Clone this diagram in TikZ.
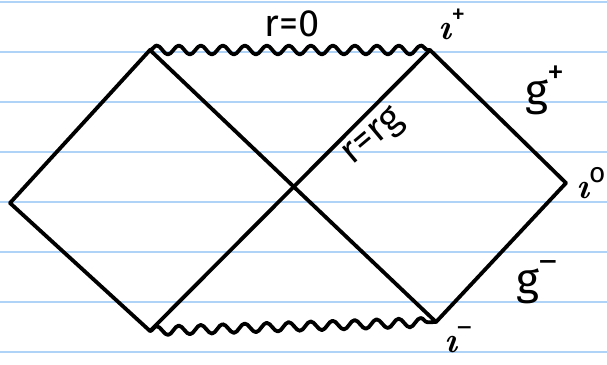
\documentclass[tikz,border=0pt]{standalone}
\usepackage{fontspec}
\setmainfont{Fira Sans}
\newfontfamily\lmfont{Latin Modern Roman}
\usetikzlibrary{decorations.pathmorphing}
\definecolor{ruled}{HTML}{AFD3F7}
\newcommand{\supmark}[1]{\raisebox{0.5em}{\fontsize{34}{36}\selectfont #1}}
\newcommand{\supsmall}[1]{\raisebox{0.45em}{\fontsize{28}{30}\selectfont #1}}
\newcommand{\dotless}{{\lmfont\itshape\bfseries ı}}
\tikzset{
  ruleline/.style={draw=ruled, line width=2pt},
  pen/.style={draw=black, line width=3.8pt, line cap=round, line join=round},
  wavy/.style={pen, decorate, decoration={snake, amplitude=4.5pt, segment length=22pt}},
  hand/.style={font=\fontsize{38}{40}\selectfont, inner sep=0pt},
  big/.style={font=\fontsize{44}{46}\selectfont, inner sep=0pt},
  small/.style={font=\fontsize{36}{38}\selectfont, inner sep=0pt}
}
\begin{document}
\begin{tikzpicture}[x=1pt,y=-1pt]
\useasboundingbox (0,0) rectangle (607,364);
\fill[white] (0,0) rectangle (607,364);
\foreach \yy in {2,52,102,152,202,252,302,352}
  \draw[ruleline] (0,\yy) -- (607,\yy);
% vertices
\coordinate (L) at (10,203);
\coordinate (TL) at (150,50);
\coordinate (TR) at (430,50);
\coordinate (R) at (566,183);
\coordinate (BR) at (436,322);
\coordinate (BL) at (150,331);
% edges
\draw[pen] (L) -- (TL);
\draw[pen] (L) -- (BL);
\draw[pen] (TL) -- (BR);
\draw[pen] (BL) -- (TR);
\draw[pen] (TR) -- (R);
\draw[pen] (R) -- (BR);
\draw[wavy] (TL) -- (TR);
\draw[wavy] (BL) -- (BR);
% labels
\node[hand] (r0) at (292,24) {r=0};
\node[small] (ip) at (452,24) {\dotless\supsmall{+}};
\node[big] (scrp) at (545,90) {g\supmark{+}};
\node[small] (i0) at (591,183) {\dotless\supsmall{o}};
\node[big] (scrm) at (537,282) {g\supmark{–}};
\node[small] (im) at (458,340) {\dotless\supsmall{–}};
\node[hand, rotate=40] (rg) at (374,138) {r=rg};
\end{tikzpicture}
\end{document}
